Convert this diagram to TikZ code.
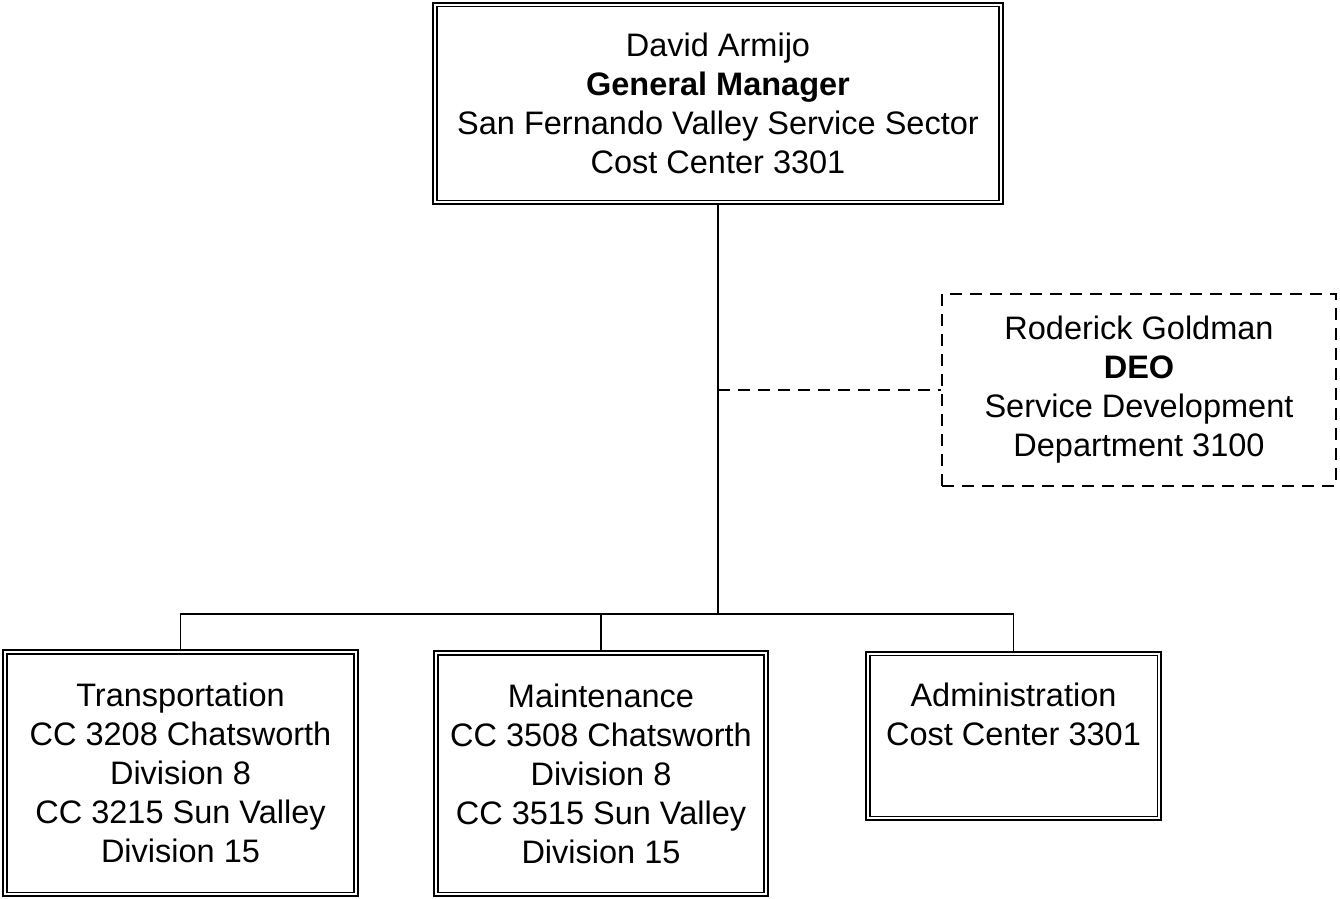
\documentclass[tikz,border=0pt]{standalone}
\usepackage{fontspec}
\setmainfont{Liberation Sans}
\usepackage{tikz}
\usetikzlibrary{positioning,calc}
\tikzstyle{unit}   =[rectangle, draw=black, line width=1.6pt, inner sep=0pt,
                     align=center, font=\fontsize{18.5}{22.2}\selectfont]
\tikzstyle{staff}  =[rectangle, draw=black, line width=1.1pt, inner sep=0pt,
                     dash pattern=on 0.24cm off 0.16cm, align=center,
                     font=\fontsize{18.5}{22.2}\selectfont]
\tikzstyle{inner}  =[line width=1.0pt]
\tikzstyle{link}   =[line width=1.1pt]
\tikzstyle{advice} =[line width=1.1pt, dash pattern=on 0.24cm off 0.16cm]

\begin{document}
\begin{tikzpicture}[x=0.02cm, y=-0.02cm]
  \useasboundingbox (0,0) rectangle (1340,899);

  % ── boxes at explicit coordinates ─────────────────────────────────────────
  \node[unit, minimum width=11.4cm, minimum height=4.02cm] (gm) at (718, 103.5)
    {David Armijo\\\textbf{General Manager}\\San Fernando Valley Service Sector\\Cost Center 3301};
  \node[staff, minimum width=7.88cm, minimum height=3.84cm] (deo) at (1139, 390)
    {Roderick Goldman\\\textbf{DEO}\\Service Development\\Department 3100};
  \node[unit, minimum width=7.1cm, minimum height=4.92cm] (trans) at (180.5, 773)
    {Transportation\\CC 3208 Chatsworth\\Division 8\\CC 3215 Sun Valley\\Division 15};
  \node[unit, minimum width=6.68cm, minimum height=4.9cm] (maint) at (601, 773.5)
    {Maintenance\\CC 3508 Chatsworth\\Division 8\\CC 3515 Sun Valley\\Division 15};
  \node[unit, minimum width=5.9cm, minimum height=3.36cm,
        label={[align=center, yshift=0.44cm, font=\fontsize{18.5}{22.2}\selectfont]center:
               Administration\\Cost Center 3301}]
        (admin) at (1013.5, 736) {};

  % ── second frame inside every solid box ───────────────────────────────────
  \foreach \n in {gm, trans, maint, admin}
    \draw[inner] ($(\n.south west)+(5,-5)$) rectangle ($(\n.north east)+(-5,5)$);

  % ── reporting lines ───────────────────────────────────────────────────────
  \coordinate (bus) at (718, 614);
  \draw[link] (gm.south) -- (bus);
  \draw[link] (trans.north) |- (bus) -| (admin.north);
  \draw[link] (maint.north) -- (maint.north |- bus);
  \draw[advice] (gm.south |- deo.west) -- (deo.west);

\end{tikzpicture}
\end{document}
